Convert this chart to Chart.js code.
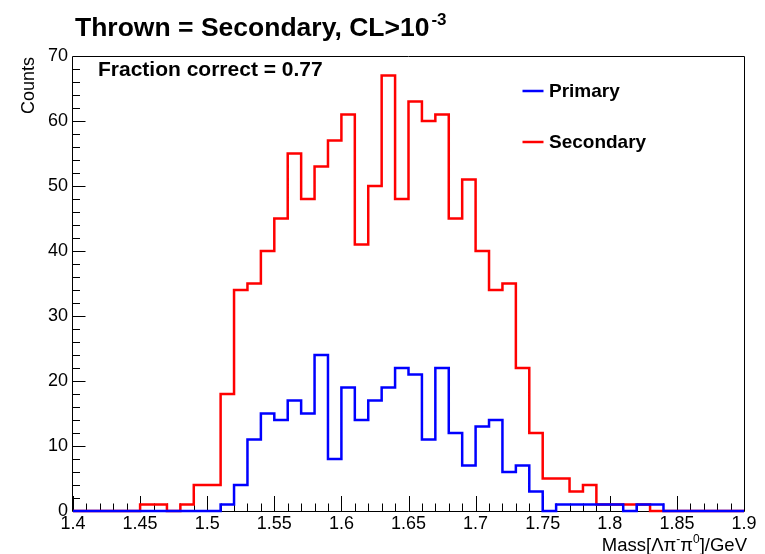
<!DOCTYPE html>
<html>
<head>
<meta charset="utf-8">
<style>
  html, body { margin: 0; padding: 0; background: #ffffff; }
  #wrap { width: 765px; height: 554px; }
</style>
<script src="https://cdn.jsdelivr.net/npm/chart.js@4.4.1/dist/chart.umd.min.js"></script>
</head>
<body>
<div id="wrap"><canvas id="c" width="765" height="554"></canvas></div>
<script>
// Histogram binning: low edge of each 0.01 GeV bin, plus the upper edge of the last bin
const binLowEdges = [
  1.40, 1.41, 1.42, 1.43, 1.44, 1.45, 1.46, 1.47, 1.48, 1.49,
  1.50, 1.51, 1.52, 1.53, 1.54, 1.55, 1.56, 1.57, 1.58, 1.59,
  1.60, 1.61, 1.62, 1.63, 1.64, 1.65, 1.66, 1.67, 1.68, 1.69,
  1.70, 1.71, 1.72, 1.73, 1.74, 1.75, 1.76, 1.77, 1.78, 1.79,
  1.80, 1.81, 1.82, 1.83, 1.84, 1.85, 1.86, 1.87, 1.88, 1.89
];
const histUpperEdge = 1.90;

// Counts per bin
const primaryCounts = [
  0, 0, 0, 0, 0, 0, 0, 0, 0, 0,
  0, 1, 4, 11, 15, 14, 17, 15, 24, 8,
  19, 14, 17, 19, 22, 21, 11, 22, 12, 7,
  13, 14, 6, 7, 3, 0, 1, 1, 1, 1,
  1, 0, 1, 1, 0, 0, 0, 0, 0, 0
];
const secondaryCounts = [
  0, 0, 0, 0, 0, 1, 1, 0, 1, 4,
  4, 18, 34, 35, 40, 45, 55, 48, 53, 57,
  61, 41, 50, 67, 48, 63, 60, 61, 45, 51,
  40, 34, 35, 22, 12, 5, 5, 3, 4, 1,
  1, 1, 1, 0, 0, 0, 0, 0, 0, 0
];

// Axis ticks
const xTickValues = [1.4, 1.45, 1.5, 1.55, 1.6, 1.65, 1.7, 1.75, 1.8, 1.85, 1.9];
const xTickLabels = ['1.4', '1.45', '1.5', '1.55', '1.6', '1.65', '1.7', '1.75', '1.8', '1.85', '1.9'];
const yTickValues = [0, 10, 20, 30, 40, 50, 60, 70];
const yTickLabels = ['0', '10', '20', '30', '40', '50', '60', '70'];

const FONT = '"Liberation Sans", Arial, Helvetica, sans-serif';

function histPoints(counts) {
  const pts = binLowEdges.map((x, i) => ({ x: x, y: counts[i] }));
  pts.push({ x: histUpperEdge, y: counts[counts.length - 1] });
  return pts;
}

// Frame box and inward ticks, drawn under the histograms
const framePlugin = {
  id: 'frameTicks',
  beforeDatasetsDraw(chart) {
    const ctx = chart.ctx;
    const a = chart.chartArea;
    const xs = chart.scales.x, ys = chart.scales.y;
    ctx.save();
    ctx.strokeStyle = '#000000';
    ctx.lineWidth = 1;
    ctx.beginPath();
    ctx.rect(Math.round(a.left) - 0.5, Math.round(a.top) + 0.5,
             Math.round(a.right - a.left) + 1, Math.round(a.bottom - a.top));
    ctx.stroke();
    ctx.beginPath();
    for (let i = 0; i <= 50; i++) {
      const px = Math.round(xs.getPixelForValue(1.4 + i * 0.01)) + 0.5;
      const len = (i % 5 === 0) ? 15 : 7.5;
      ctx.moveTo(px, a.bottom);
      ctx.lineTo(px, a.bottom - len);
    }
    for (let j = 0; j <= 35; j++) {
      const py = Math.round(ys.getPixelForValue(j * 2)) + 0.5;
      const len = (j % 5 === 0) ? 12.5 : 7;
      ctx.moveTo(a.left, py);
      ctx.lineTo(a.left + len, py);
    }
    ctx.stroke();
    ctx.restore();
  }
};

// Title, annotation, legend and axis titles
const textPlugin = {
  id: 'labels',
  afterDatasetsDraw(chart) {
    const ctx = chart.ctx;
    ctx.save();
    ctx.fillStyle = '#000000';
    ctx.textBaseline = 'alphabetic';
    ctx.textAlign = 'left';

    // Title with superscript exponent
    ctx.font = 'bold 26.5px ' + FONT;
    const t1 = 'Thrown = Secondary, CL>10';
    ctx.fillText(t1, 75, 36);
    const w1 = ctx.measureText(t1).width;
    ctx.font = 'bold 17px ' + FONT;
    ctx.fillText('-3', 75 + w1 + 2, 25);

    // Fraction annotation
    ctx.font = 'bold 21px ' + FONT;
    ctx.fillText('Fraction correct = 0.77', 98, 76);

    // Legend
    const legend = [
      { label: 'Primary', color: '#0000ff', y: 91, base: 97 },
      { label: 'Secondary', color: '#ff0000', y: 142, base: 148 }
    ];
    ctx.font = 'bold 19px ' + FONT;
    legend.forEach(e => {
      ctx.strokeStyle = e.color;
      ctx.lineWidth = 2.5;
      ctx.beginPath();
      ctx.moveTo(522.5, e.y);
      ctx.lineTo(543.5, e.y);
      ctx.stroke();
      ctx.fillText(e.label, 549, e.base);
    });

    // Y axis title
    ctx.save();
    ctx.font = '18px ' + FONT;
    ctx.translate(34, 57);
    ctx.rotate(-Math.PI / 2);
    ctx.textAlign = 'right';
    ctx.fillText('Counts', 0, 0);
    ctx.restore();

    // X axis title with superscripts
    const parts = [
      { t: 'Mass[\u039B\u03C0', sup: false },
      { t: '-', sup: true },
      { t: '\u03C0', sup: false },
      { t: '0', sup: true },
      { t: ']/GeV', sup: false }
    ];
    const normalFont = '18.5px ' + FONT, supFont = '12px ' + FONT;
    let total = 0;
    parts.forEach(p => {
      ctx.font = p.sup ? supFont : normalFont;
      p.w = ctx.measureText(p.t).width;
      total += p.w;
    });
    let x = 747 - total;
    parts.forEach(p => {
      ctx.font = p.sup ? supFont : normalFont;
      ctx.fillText(p.t, x, p.sup ? 543 : 551);
      x += p.w;
    });
    ctx.restore();
  }
};

new Chart(document.getElementById('c'), {
  type: 'line',
  data: {
    datasets: [
      {
        label: 'Primary',
        data: histPoints(primaryCounts),
        borderColor: '#0000ff',
        borderWidth: 2.5,
        stepped: 'before',
        pointRadius: 0,
        fill: false,
        borderJoinStyle: 'miter',
        clip: 4
      },
      {
        label: 'Secondary',
        data: histPoints(secondaryCounts),
        borderColor: '#ff0000',
        borderWidth: 2.5,
        stepped: 'before',
        pointRadius: 0,
        fill: false,
        borderJoinStyle: 'miter',
        clip: 4
      }
    ]
  },
  options: {
    responsive: false,
    animation: false,
    devicePixelRatio: 1,
    layout: { padding: { top: 56, right: 21, left: 0, bottom: 0 } },
    plugins: {
      legend: { display: false },
      title: { display: false },
      tooltip: { enabled: false }
    },
    scales: {
      x: {
        type: 'linear',
        min: 1.4,
        max: 1.9,
        grid: { display: false, drawTicks: false },
        border: { display: false },
        afterBuildTicks: axis => { axis.ticks = xTickValues.map(v => ({ value: v })); },
        afterFit: axis => { axis.height = 43; },
        ticks: {
          autoSkip: false,
          maxRotation: 0,
          padding: 2,
          color: '#000000',
          font: { family: FONT, size: 18 },
          callback: (v, i) => xTickLabels[i]
        }
      },
      y: {
        min: 0,
        max: 70,
        grid: { display: false, drawTicks: false },
        border: { display: false },
        afterBuildTicks: axis => { axis.ticks = yTickValues.map(v => ({ value: v })); },
        afterFit: axis => { axis.width = 73; },
        ticks: {
          autoSkip: false,
          padding: 5,
          color: '#000000',
          font: { family: FONT, size: 18 },
          callback: (v, i) => yTickLabels[i]
        }
      }
    }
  },
  plugins: [framePlugin, textPlugin]
});
</script>
</body>
</html>
